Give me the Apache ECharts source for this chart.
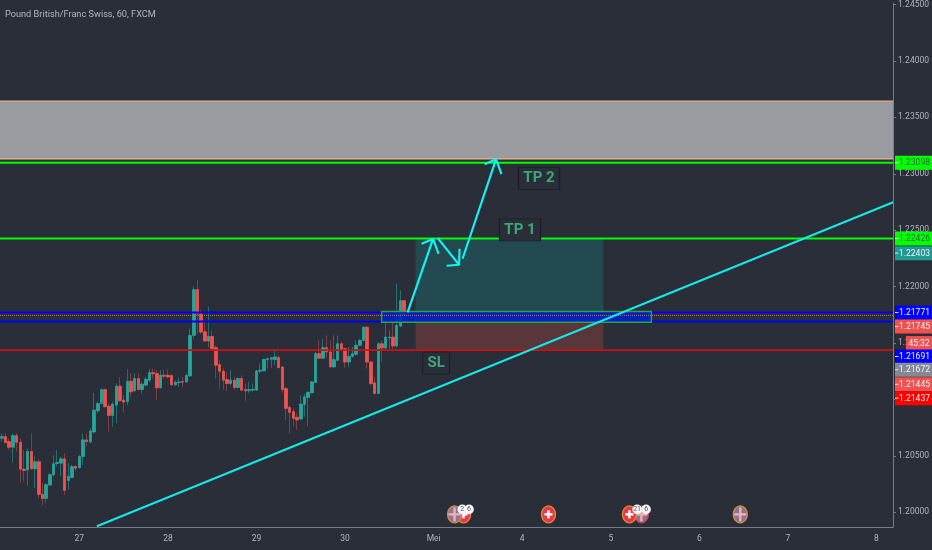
<!DOCTYPE html>
<html><head><meta charset="utf-8">
<style>html,body{margin:0;padding:0;background:#2a2e39}#c{width:932px;height:550px}</style>
<script src="https://cdn.jsdelivr.net/npm/echarts@6/dist/echarts.min.js"></script>
</head><body><div id="c"></div>
<script>
const titleText = 'Pound British/Franc Swiss, 60, FXCM';
const dayLabels = ['27','28','29','30','Mei','4','5','6','7','8'];
const dayBars = [21,45,69,93,117,141,165,189,213,237];
const barCount = 242;
const priceTicks = [1.20,1.205,1.21,1.215,1.22,1.225,1.23,1.235,1.24,1.245];
const opens = [1.20656,1.20671,1.20627,1.20577,1.20680,1.20621,1.20383,1.20377,1.20539,1.20386,
1.20448,1.20159,1.20124,1.20242,1.20333,1.20433,1.20436,1.20474,1.20283,1.20309,
1.20406,1.20395,1.20495,1.20642,1.20624,1.20712,1.20900,1.20965,1.21088,1.20941,
1.20859,1.20950,1.21118,1.20994,1.20980,1.21162,1.21077,1.21186,1.21088,1.21127,
1.21171,1.21238,1.21230,1.21103,1.21215,1.21215,1.21212,1.21130,1.21150,1.21159,
1.21156,1.21209,1.21568,1.21973,1.21759,1.21600,1.21518,1.21559,1.21459,1.21309,
1.21250,1.21177,1.21141,1.21171,1.21106,1.21186,1.21088,1.21077,1.21083,1.21083,
1.21250,1.21253,1.21353,1.21356,1.21353,1.21371,1.21288,1.21097,1.20930,1.20892,
1.20842,1.20827,1.20956,1.21018,1.21059,1.21150,1.21406,1.21365,1.21459,1.21421,
1.21288,1.21347,1.21494,1.21450,1.21332,1.21382,1.21400,1.21480,1.21524,1.21641,
1.21332,1.21147,1.21053,1.21494,1.21456,1.21547,1.21553,1.21474,1.21650,1.21876];
const closes = [1.20671,1.20618,1.20577,1.20680,1.20621,1.20383,1.20371,1.20539,1.20386,1.20448,
1.20159,1.20121,1.20245,1.20333,1.20430,1.20442,1.20474,1.20195,1.20318,1.20406,
1.20392,1.20495,1.20642,1.20627,1.20721,1.20906,1.20965,1.21088,1.20936,1.20859,
1.20959,1.21118,1.20989,1.20977,1.21162,1.21068,1.21186,1.21088,1.21136,1.21180,
1.21238,1.21227,1.21103,1.21215,1.21206,1.21200,1.21130,1.21153,1.21156,1.21153,
1.21212,1.21568,1.21973,1.21759,1.21597,1.21518,1.21559,1.21450,1.21303,1.21250,
1.21171,1.21141,1.21171,1.21106,1.21186,1.21083,1.21077,1.21088,1.21091,1.21253,
1.21259,1.21356,1.21362,1.21371,1.21377,1.21283,1.21088,1.20921,1.20886,1.20833,
1.20818,1.20959,1.21024,1.21065,1.21156,1.21406,1.21365,1.21459,1.21421,1.21288,
1.21353,1.21494,1.21441,1.21332,1.21382,1.21406,1.21480,1.21524,1.21641,1.21332,
1.21141,1.21053,1.21494,1.21456,1.21553,1.21553,1.21474,1.21656,1.21876,1.21745];
const highs = [1.20700,1.20700,1.20656,1.20700,1.20700,1.20656,1.20553,1.20568,1.20700,1.20495,
1.20471,1.20259,1.20259,1.20348,1.20509,1.20553,1.20495,1.20524,1.20436,1.20421,
1.20421,1.20509,1.20700,1.20700,1.20744,1.21059,1.20980,1.21097,1.21097,1.20965,
1.20980,1.21141,1.21200,1.21038,1.21268,1.21230,1.21230,1.21230,1.21156,1.21200,
1.21265,1.21274,1.21259,1.21259,1.21265,1.21265,1.21224,1.21171,1.21194,1.21200,
1.21230,1.21627,1.22000,1.22059,1.21794,1.21685,1.21818,1.21612,1.21479,1.21347,
1.21274,1.21244,1.21259,1.21200,1.21200,1.21215,1.21141,1.21156,1.21141,1.21259,
1.21318,1.21362,1.21371,1.21371,1.21430,1.21391,1.21294,1.21112,1.20950,1.20921,
1.20877,1.21038,1.21053,1.21068,1.21165,1.21421,1.21524,1.21538,1.21568,1.21524,
1.21568,1.21568,1.21509,1.21459,1.21465,1.21465,1.21524,1.21538,1.21647,1.21647,
1.21341,1.21200,1.21509,1.21524,1.21677,1.21612,1.21685,1.22029,1.21965,1.21882];
const lows = [1.20627,1.20612,1.20553,1.20442,1.20539,1.20265,1.20274,1.20236,1.20377,1.20215,
1.20127,1.20062,1.20083,1.20230,1.20318,1.20406,1.20324,1.20157,1.20201,1.20303,
1.20362,1.20392,1.20421,1.20583,1.20612,1.20700,1.20877,1.20959,1.20930,1.20715,
1.20759,1.20789,1.20980,1.20883,1.20950,1.21024,1.21068,1.21083,1.21053,1.21112,
1.21156,1.21186,1.20994,1.21097,1.21186,1.21186,1.21124,1.21124,1.21112,1.21106,
1.21147,1.21200,1.21538,1.21582,1.21582,1.21509,1.21459,1.21435,1.21186,1.21097,
1.21083,1.21077,1.21127,1.21088,1.21097,1.21074,1.20989,1.21059,1.21068,1.21077,
1.21230,1.21250,1.21274,1.21283,1.21303,1.21274,1.21059,1.20818,1.20700,1.20759,
1.20730,1.20818,1.20847,1.20765,1.21053,1.21147,1.21359,1.21362,1.21371,1.21283,
1.21283,1.21341,1.21435,1.21283,1.21288,1.21371,1.21391,1.21471,1.21518,1.21274,
1.21127,1.21047,1.21047,1.21332,1.21450,1.21450,1.21444,1.21459,1.21641,1.21729];

const bandTop = 1.23645, bandBottom = 1.23132;
const greenLevels = [1.23098,1.22426];
const blueLevels = [1.21771,1.21691];
const entryLevel = 1.21745, stopLevel = 1.21445;
const posStart = 112.11, posEnd = 163.0;
const boxStart = 102.91, boxEnd = 176.0, boxTop = 1.21780, boxBottom = 1.21685;
const trendHours = [25.76,241.5], trendPrices = [1.19877,1.22748];
const arrows = [
 [[109.95,1.21771],[116.85,1.22423]],
 [[113.74,1.22379],[116.85,1.22423],[118.34,1.22291]],
 [[118.07,1.22432],[123.89,1.22194]],
 [[124.03,1.22335],[123.89,1.22194],[120.51,1.22185]],
 [[124.84,1.22247],[133.91,1.23128]],
 [[130.79,1.23084],[133.91,1.23128],[135.39,1.22996]]
];
const noteTexts = ['TP 2','TP 1','SL'];
const noteHours = [145.55,140.4,117.67];
const notePrices = [1.22960,1.22502,1.21322];
const noteWidths = [41,41,27];
const eventHours = [200.09,173.29,170.05,148.12,125.11,122.67];
const eventKinds = ['uk','uk','ch','ch','ch','uk'];
const eventRings = ['#e08a2a','#e0353a','#e08a2a','#e08a2a','#e08a2a','#e08a2a'];
const eventPrice = 1.19982;
const badgeTexts = ['2','6','21','6'];
const badgeHours = [124.76,126.6,172.13,174.57];
const badgePrice = 1.20026;
const tagTexts = ['1.23098','1.22426','1.22403','1.21771','1.21745','45:32','1.21691','1.21672','1.21445','1.21437'];
const tagPrices = [1.23098,1.22426,1.22403,1.21771,1.21745,1.21500,1.21691,1.21672,1.21445,1.21437];
// layout of the price tags: pixel shift off their true level, colours
const tagShift = [0,0,12,0,11,0,35,46,35,48];
const tagFill = ['#00ff00','#00ff00','#1f9b92','#0000ff','#f0524f','#f0524f','#0000ff','#868993','#f0524f','#ff0000'];
const tagInk = ['#2f5f3a','#2f5f3a','#f0f3fa','#f0f3fa','#f0f3fa','#f0f3fa','#f0f3fa','#f0f3fa','#f0f3fa','#f0f3fa'];

const categories = new Array(barCount).fill('');
dayBars.forEach((b,i)=>{categories[b]=dayLabels[i];});
const wicks = opens.map((o,i)=>[o,closes[i],lows[i],highs[i]]);
const bodies = opens.map((o,i)=>[o,closes[i],Math.min(o,closes[i]),Math.max(o,closes[i])]);
const X0=-0.5,X1=241.5;
const font='Roboto';

function hline(price,color,width,type,z){
  return {type:'line',xAxisIndex:1,yAxisIndex:0,data:[[X0,price],[X1,price]],symbol:'none',silent:true,z:z||4,
    lineStyle:{color:color,width:width,type:type||'solid'}};
}
function zone(u1,p1,u2,p2,fill,stroke,z){
  return {type:'custom',xAxisIndex:1,yAxisIndex:0,z:z,silent:true,clip:true,data:[[u1,p1,u2,p2]],
    encode:{x:[0,2],y:[1,3]},
    renderItem:(params,api)=>{
      const a=api.coord([api.value(0),api.value(1)]),b=api.coord([api.value(2),api.value(3)]);
      return {type:'rect',shape:{x:a[0],y:a[1],width:b[0]-a[0],height:b[1]-a[1]},
        style:{fill:fill,stroke:stroke||null,lineWidth:stroke?1.4:0}};
    }};
}

const series=[
  zone(X0,bandTop,X1,bandBottom,'#9a9ba0',null,1),
  zone(posStart,greenLevels[1],posEnd,entryLevel,'#234a50',null,1),
  zone(posStart,entryLevel,posEnd,stopLevel,'#58363a',null,1),
  {type:'candlestick',xAxisIndex:0,yAxisIndex:0,data:wicks,barWidth:1,z:2,silent:true,
    itemStyle:{color:'#276e6e',color0:'#7d3f44',borderColor:'#276e6e',borderColor0:'#7d3f44',borderWidth:1}},
  {type:'candlestick',xAxisIndex:0,yAxisIndex:0,data:bodies,barWidth:3,z:3,silent:true,
    itemStyle:{color:'#26a69a',color0:'#ef5350',borderColor:'#26a69a',borderColor0:'#ef5350',borderWidth:0.8}},
  hline(bandTop,'#f4b183',1.2),
  hline(bandBottom,'#f4b183',1.2),
  hline(greenLevels[0],'#00ff00',2),
  hline(greenLevels[1],'#00ff00',2),
  hline(blueLevels[0],'#0000ee',2),
  hline(blueLevels[1],'#0000ee',2),
  hline(1.21437,'#d01010',1.6),
  zone(boxStart,boxTop,boxEnd,boxBottom,'rgba(0,30,205,0.85)','#22a84a',5),
  hline(entryLevel,'#a8746a',1,'dotted',6),
  {type:'line',xAxisIndex:1,yAxisIndex:0,data:trendHours.map((h,i)=>[h,trendPrices[i]]),symbol:'none',z:6,silent:true,
    lineStyle:{color:'#17e8e8',width:2}},
  ...arrows.map(a=>({type:'line',xAxisIndex:1,yAxisIndex:0,data:a,symbol:'none',z:7,silent:true,
    lineStyle:{color:'#17f0f0',width:2.2}})),
  {type:'scatter',xAxisIndex:1,yAxisIndex:0,z:8,silent:true,symbol:'rect',
    data:noteTexts.map((t,i)=>({name:t,value:[noteHours[i],notePrices[i]],symbolSize:[noteWidths[i],22]})),
    itemStyle:{color:'#2a2e39',borderColor:'#1b1e27',borderWidth:1,opacity:1},
    label:{show:true,position:'inside',formatter:'{b}',color:'#3fa67c',fontFamily:font,fontWeight:'bold',fontSize:15}},
  {type:'custom',xAxisIndex:1,yAxisIndex:0,z:8,silent:true,clip:false,
    data:eventHours.map((h,i)=>[h,eventPrice,i]),
    renderItem:(params,api)=>{
      const p=api.coord([api.value(0),api.value(1)]);const idx=api.value(2);const k=eventKinds[idx];
      const kids=[{type:'ellipse',shape:{cx:p[0],cy:p[1],rx:7,ry:8.5},style:{fill:k==='ch'?'#e8394a':'#85769c',stroke:eventRings[idx],lineWidth:1.4}}];
      const c=k==='ch'?'#ffffff':'#efb0b4';
      kids.push({type:'rect',shape:{x:p[0]-(k==='ch'?4:6),y:p[1]-1.2,width:k==='ch'?8:12,height:2.4},style:{fill:c}});
      kids.push({type:'rect',shape:{x:p[0]-1.2,y:p[1]-(k==='ch'?4:7),width:2.4,height:k==='ch'?8:14},style:{fill:c}});
      return {type:'group',children:kids};
    }},
  {type:'custom',xAxisIndex:1,yAxisIndex:0,z:9,silent:true,clip:false,
    data:badgeHours.map((h,i)=>[h,badgePrice,i]),
    renderItem:(params,api)=>{
      const p=api.coord([api.value(0),api.value(1)]);
      return {type:'group',children:[
        {type:'circle',shape:{cx:p[0],cy:p[1],r:4.8},style:{fill:'#f4f4f6'}},
        {type:'text',style:{x:p[0],y:p[1],text:badgeTexts[api.value(2)],fill:'#555a66',font:'7px '+font,align:'center',verticalAlign:'middle'}}
      ]};
    }},
  {type:'custom',xAxisIndex:1,yAxisIndex:0,z:20,silent:true,clip:false,
    data:tagPrices.map((v,i)=>[X1,v,i]),
    renderItem:(params,api)=>{
      const i=api.value(2);const p=api.coord([api.value(0),api.value(1)]);
      const y=p[1]+tagShift[i];const short=tagTexts[i].length<7;
      const left=short?906:895;
      const kids=[{type:'rect',shape:{x:left,y:y-7,width:932-left,height:14},style:{fill:tagFill[i]}}];
      if(!short)kids.push({type:'rect',shape:{x:895,y:y-0.5,width:3.5,height:1},style:{fill:'#dfe1e6'}});
      kids.push({type:'text',style:{x:short?919:914.5,y:y+0.5,text:tagTexts[i],fill:tagInk[i],font:'8.5px '+font,align:'center',verticalAlign:'middle'}});
      return {type:'group',children:kids};
    }}
];

const chart=echarts.init(document.getElementById('c'),null,{renderer:'canvas'});
chart.setOption({
  animation:false,backgroundColor:'#2a2e39',
  title:{text:titleText,left:5,top:10,padding:0,textStyle:{color:'#b2b5be',fontFamily:font,fontSize:9.2,fontWeight:'normal'}},
  grid:{left:0,right:38,top:0,bottom:23},
  xAxis:[
    {type:'category',data:categories,boundaryGap:true,
      axisLine:{onZero:false,lineStyle:{color:'#787b86',width:1}},
      axisTick:{alignWithLabel:true,length:3,lineStyle:{color:'#787b86'},interval:(i)=>dayBars.includes(i)},
      axisLabel:{interval:(i)=>dayBars.includes(i),color:'#b2b5be',fontFamily:font,fontSize:8.5,margin:7},
      splitLine:{show:false}},
    {type:'value',min:X0,max:X1,show:false,splitLine:{show:false}}
  ],
  yAxis:[{type:'value',min:1.1987,max:1.24511,position:'right',scale:true,
    axisLine:{show:true,onZero:false,lineStyle:{color:'#787b86'}},
    axisTick:{show:true,length:3,customValues:priceTicks,lineStyle:{color:'#787b86'}},
    axisLabel:{customValues:priceTicks,formatter:(v)=>v.toFixed(5),color:'#b2b5be',fontFamily:font,fontSize:8.5,margin:5,padding:[2,0,0,0],showMinLabel:true,showMaxLabel:true},
    splitLine:{show:false}}],
  series:series
});
</script></body></html>
